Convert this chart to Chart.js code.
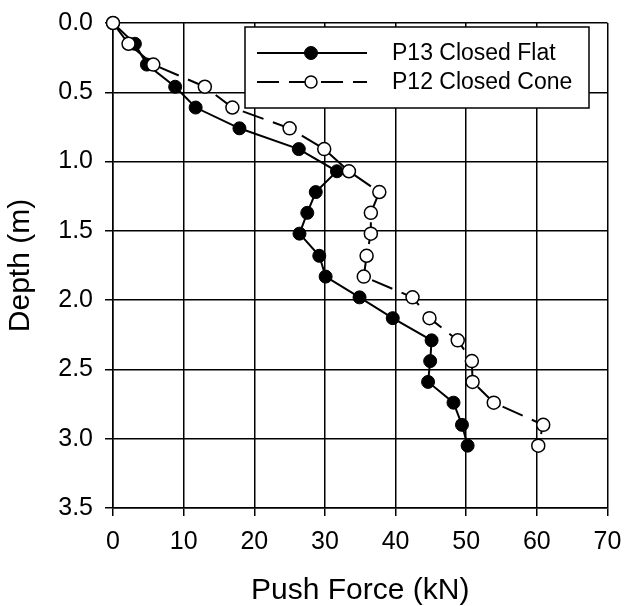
<!DOCTYPE html>
<html><head><meta charset="utf-8">
<script src="https://cdn.jsdelivr.net/npm/chart.js@4/dist/chart.umd.min.js"></script>
<style>html,body{margin:0;padding:0;background:#fff}#wrap{width:626px;height:606px}</style>
</head><body><div id="wrap"><canvas id="c" width="626" height="606"></canvas></div>
<script>
// Depth (m) of each reading
const depths = [0, 0.15, 0.30, 0.46, 0.61, 0.76, 0.91, 1.07, 1.22, 1.37, 1.52, 1.68, 1.83, 1.98, 2.13, 2.29, 2.44, 2.59, 2.74, 2.90, 3.05];
// Push force (kN), P13 Closed Flat
const flatForce = [0, 3.1, 4.8, 8.8, 11.7, 17.9, 26.3, 31.7, 28.7, 27.5, 26.4, 29.2, 30.1, 34.9, 39.6, 45.1, 44.9, 44.6, 48.2, 49.4, 50.2];
// Push force (kN), P12 Closed Cone
const coneForce = [0, 2.2, 5.7, 13.0, 16.9, 25.0, 29.9, 33.4, 37.7, 36.5, 36.5, 35.9, 35.5, 42.4, 44.8, 48.8, 50.8, 50.9, 53.9, 60.9, 60.2];
const seriesNames = ['P13 Closed Flat', 'P12 Closed Cone'];
const xTicks = [0, 10, 20, 30, 40, 50, 60, 70];
const yTicks = [0.0, 0.5, 1.0, 1.5, 2.0, 2.5, 3.0, 3.5];
const xTitle = 'Push Force (kN)';
const yTitle = 'Depth (m)';

const FONT = '"Liberation Sans", Arial, Helvetica, sans-serif';

const legendPlugin = {
  id: 'boxLegend',
  afterDraw(chart) {
    const ctx = chart.ctx;
    ctx.save();
    const bx = 245, by = 27, bw = 344, bh = 81;
    ctx.fillStyle = '#fff';
    ctx.fillRect(bx, by, bw, bh);
    ctx.strokeStyle = '#000';
    ctx.lineWidth = 1.5;
    ctx.strokeRect(bx, by, bw, bh);
    const rows = [53, 82];
    chart.data.datasets.forEach((ds, i) => {
      const y = rows[i];
      ctx.strokeStyle = ds.borderColor;
      ctx.lineWidth = ds.borderWidth;
      ctx.setLineDash(ds.borderDash || []);
      ctx.beginPath();
      ctx.moveTo(257, y);
      ctx.lineTo(367, y);
      ctx.stroke();
      ctx.setLineDash([]);
      ctx.beginPath();
      ctx.arc(311, y, i === 0 ? ds.pointRadius : ds.pointRadius - 0.5, 0, Math.PI * 2);
      ctx.fillStyle = ds.pointBackgroundColor;
      ctx.fill();
      ctx.lineWidth = ds.pointBorderWidth;
      ctx.strokeStyle = ds.pointBorderColor;
      ctx.stroke();
      ctx.fillStyle = '#000';
      ctx.font = '23px ' + FONT;
      ctx.textBaseline = 'middle';
      ctx.textAlign = 'left';
      ctx.fillText(ds.label, 392, y + 1);
    });
    ctx.restore();
  }
};

const toPts = (xs) => depths.map((d, i) => ({x: xs[i], y: d}));

new Chart(document.getElementById('c'), {
  type: 'scatter',
  data: {
    datasets: [
      {
        label: seriesNames[0],
        data: toPts(flatForce),
        showLine: true,
        borderColor: '#000',
        borderWidth: 2,
        pointRadius: 6.5,
        pointBackgroundColor: '#000',
        pointBorderColor: '#000',
        pointBorderWidth: 1,
        tension: 0,
        clip: false,
        order: 1
      },
      {
        label: seriesNames[1],
        data: toPts(coneForce),
        showLine: true,
        borderColor: '#000',
        borderWidth: 2,
        borderDash: [22, 10],
        pointRadius: 6.5,
        pointBackgroundColor: '#fff',
        pointBorderColor: '#000',
        pointBorderWidth: 1.5,
        tension: 0,
        clip: false,
        order: 0
      }
    ]
  },
  options: {
    responsive: false,
    devicePixelRatio: 1,
    animation: false,
    layout: {padding: {left: 0, right: 18.5, top: 23, bottom: 0}},
    plugins: {legend: {display: false}, tooltip: {enabled: false}},
    scales: {
      x: {
        type: 'linear',
        min: xTicks[0], max: xTicks[xTicks.length - 1],
        afterBuildTicks: (s) => { s.ticks = xTicks.map(v => ({value: v})); },
        afterFit: (s) => { s.height = 98; s.paddingLeft = 0; s.paddingRight = 0; },
        ticks: {color: '#000', font: {family: FONT, size: 25}, padding: 11, maxRotation: 0, autoSkip: false},
        grid: {color: '#000', lineWidth: 1.5, tickColor: '#000', tickLength: 8, tickWidth: 1.5},
        border: {display: true, color: '#000', width: 1.5},
        title: {display: true, text: xTitle, color: '#000', font: {family: FONT, size: 30, lineHeight: 1}, padding: {top: 0, bottom: 0}}
      },
      y: {
        type: 'linear',
        reverse: true,
        min: yTicks[0], max: yTicks[yTicks.length - 1],
        afterBuildTicks: (s) => { s.ticks = yTicks.map(v => ({value: v})); },
        afterFit: (s) => { s.width = 113; s.paddingTop = 0; s.paddingBottom = 0; },
        ticks: {color: '#000', font: {family: FONT, size: 25}, padding: 12, callback: (v) => Number(v).toFixed(1), autoSkip: false},
        grid: {color: '#000', lineWidth: 1.5, tickColor: '#000', tickLength: 8, tickWidth: 1.5},
        border: {display: true, color: '#000', width: 1.5},
        title: {display: true, text: yTitle, color: '#000', font: {family: FONT, size: 30, lineHeight: 1}, padding: {top: 6, bottom: 0}}
      }
    }
  },
  plugins: [legendPlugin]
});
</script>
</body></html>
